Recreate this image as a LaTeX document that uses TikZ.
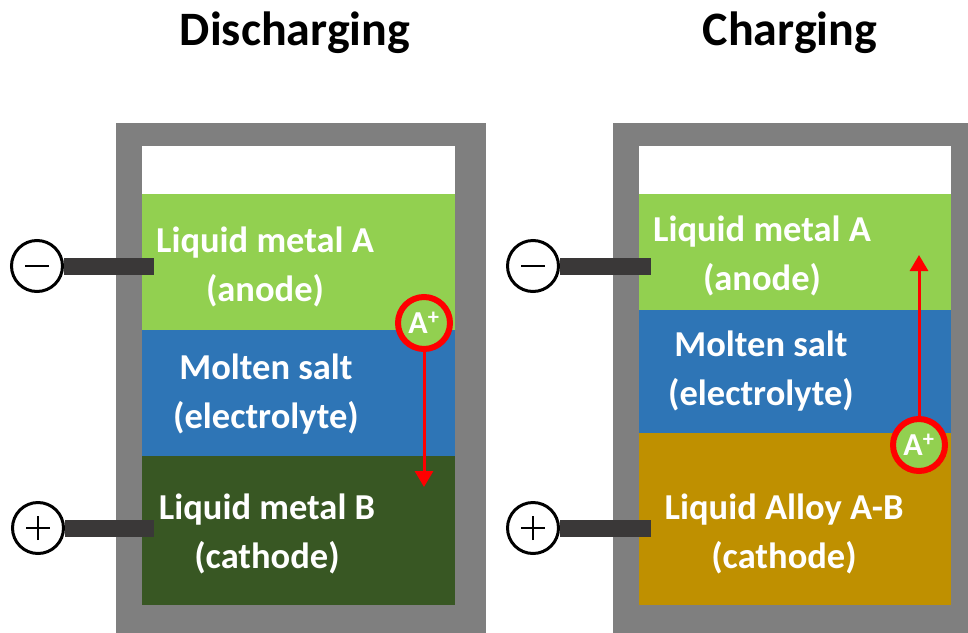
\documentclass[tikz,border=0pt]{standalone}
\usepackage{fontspec}
\setmainfont{Carlito}
\usepackage{xcolor}
\usepackage{tikz}
\usetikzlibrary{shapes,arrows.meta,positioning}
\definecolor{metalA}{HTML}{92D050}
\definecolor{saltblue}{HTML}{2E75B6}
\definecolor{metalB}{HTML}{385723}
\definecolor{alloy}{HTML}{BF9000}
\definecolor{casegray}{HTML}{7F7F7F}
\definecolor{bargray}{HTML}{3A3838}

\begin{document}
\begin{tikzpicture}[x=1pt,y=-1pt,
    label/.style={text=white,align=center,font=\bfseries\fontsize{36.5}{48.5}\selectfont},
    title/.style={font=\bfseries\fontsize{48}{52}\selectfont},
    terminal/.style={circle,draw=black,line width=3pt,fill=white,minimum size=51pt,inner sep=0pt},
    sign/.style={draw=black,line width=2.5pt},
    bar/.style={draw=bargray,line width=17pt},
    ion/.style={circle,draw=red,line width=6pt,fill=metalA,minimum size=52pt,inner sep=0pt,text=white,font=\bfseries\fontsize{32}{32}\selectfont},
    flow/.style={draw=red,line width=3pt,-{Triangle[width=18pt,length=16pt]}}]
    \useasboundingbox (0,0) rectangle (968,632);
    \clip (0,0) rectangle (968,632);

    % Titles
    \node[title] (titleD) at (295,33) {Discharging};
    \node[title] (titleC) at (790,33) {Charging};

    % Discharging cell
    \fill[casegray] (116,123) rectangle (486,660);
    \fill[white] (142,146) rectangle (455,194);
    \fill[metalA] (142,194) rectangle (455,330);
    \fill[saltblue] (142,330) rectangle (455,456);
    \fill[metalB] (142,456) rectangle (455,605);
    \node[label] (anodeL) at (265,267) {Liquid metal A\\(anode)};
    \node[label] (saltL) at (266,394) {Molten salt\\(electrolyte)};
    \node[label] (cathodeL) at (267,534) {Liquid metal B\\(cathode)};

    % Charging cell
    \fill[casegray] (613,123) rectangle (982,660);
    \fill[white] (639,146) rectangle (951,194);
    \fill[metalA] (639,194) rectangle (951,310);
    \fill[saltblue] (639,310) rectangle (951,433);
    \fill[alloy] (639,433) rectangle (951,605);
    \node[label] (anodeR) at (762,256) {Liquid metal A\\(anode)};
    \node[label] (saltR) at (761,371) {Molten salt\\(electrolyte)};
    \node[label] (cathodeR) at (784,534) {Liquid Alloy A-B\\(cathode)};

    % Terminals
    \node[terminal] (minusL) at (37,266) {};
    \node[terminal] (plusL) at (38,528) {};
    \node[terminal] (minusR) at (533,266) {};
    \node[terminal] (plusR) at (533,528) {};
    \foreach \t in {minusL,plusL,minusR,plusR}
        \draw[sign] ([xshift=-12pt]\t.center) -- ([xshift=12pt]\t.center);
    \foreach \t in {plusL,plusR}
        \draw[sign] ([yshift=-12pt]\t.center) -- ([yshift=12pt]\t.center);
    \coordinate (minusLend) at (154,266);
    \coordinate (plusLend) at (154,528);
    \coordinate (minusRend) at (651,266);
    \coordinate (plusRend) at (651,528);
    \draw[bar] (minusL.east) -- (minusLend);
    \draw[bar] (plusL.east) -- (plusLend);
    \draw[bar] (minusR.east) -- (minusRend);
    \draw[bar] (plusR.east) -- (plusRend);

    % Ion transport
    \node[ion] (ionL) at (424,323) {A\textsuperscript{+}};
    \coordinate (ionLend) at (424,487);
    \draw[flow] (ionL.south) -- (ionLend);
    \node[ion] (ionR) at (919,445) {A\textsuperscript{+}};
    \coordinate (ionRend) at (919,255);
    \draw[flow] (ionR.north) -- (ionRend);
\end{tikzpicture}
\end{document}
